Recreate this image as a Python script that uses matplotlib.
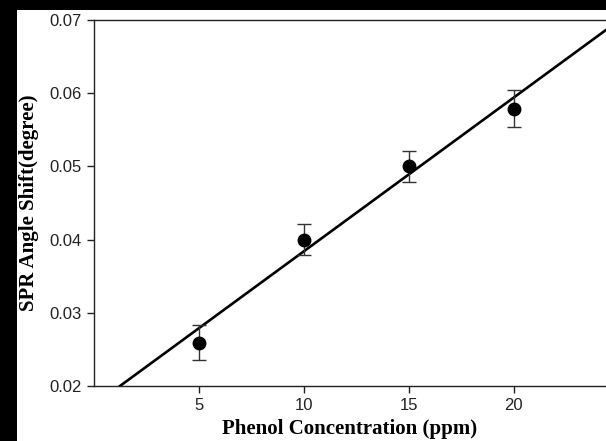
import matplotlib.pyplot as plt
from matplotlib.patches import Rectangle

# data
conc = [5, 10, 15, 20]
shift = [0.0259, 0.0400, 0.0500, 0.0579]
shift_err = [0.0024, 0.0021, 0.0021, 0.0025]
fit_slope = 0.00210
fit_intercept = 0.0174
fit_x = [1.24, 25.0]
x_ticks = [5, 10, 15, 20]
y_ticks = [0.02, 0.03, 0.04, 0.05, 0.06, 0.07]

fig = plt.figure(figsize=(6.06, 4.41), dpi=100)
fig.patch.set_facecolor('black')
# white panel (image has black strips on top and left)
fig.patches.append(Rectangle((17 / 606, 0), 1, (441 - 10) / 441,
                             transform=fig.transFigure, facecolor='white',
                             edgecolor='none', zorder=-10))

ax = fig.add_axes([94 / 606, 1 - 386 / 441, 1 - 94 / 606, (386 - 20) / 441])
ax.set_facecolor('white')

fit_y = [fit_intercept + fit_slope * x for x in fit_x]
ax.plot(fit_x, fit_y, color='black', linewidth=1.9, zorder=2)
ax.errorbar(conc, shift, yerr=shift_err, fmt='o', color='black',
            ecolor='#333333', elinewidth=1.0, capsize=5, capthick=1.0,
            markersize=9, zorder=3)

ax.set_xlim(0, 24.4)
ax.set_ylim(0.02, 0.07)
ax.set_xticks(x_ticks)
ax.set_yticks(y_ticks)
ax.set_yticklabels([f'{v:.2f}' for v in y_ticks])

for side in ['top', 'left', 'bottom']:
    ax.spines[side].set_linewidth(1.0)
    ax.spines[side].set_color('#222222')
ax.spines['right'].set_visible(False)
ax.tick_params(direction='out', length=5, width=1.0, colors='#222222',
               labelsize=12, pad=4, top=False, right=False)
for lbl in ax.get_xticklabels() + ax.get_yticklabels():
    lbl.set_fontfamily('Liberation Sans')
    lbl.set_color('#222222')

ax.set_xlabel('Phenol Concentration (ppm)', fontfamily='Liberation Serif',
              fontweight='bold', fontsize=15, labelpad=4)
ax.set_ylabel('SPR Angle Shift(degree)', fontfamily='Liberation Serif',
              fontweight='bold', fontsize=15, labelpad=7)

fig.savefig('out.png', dpi=100, facecolor=fig.get_facecolor())
